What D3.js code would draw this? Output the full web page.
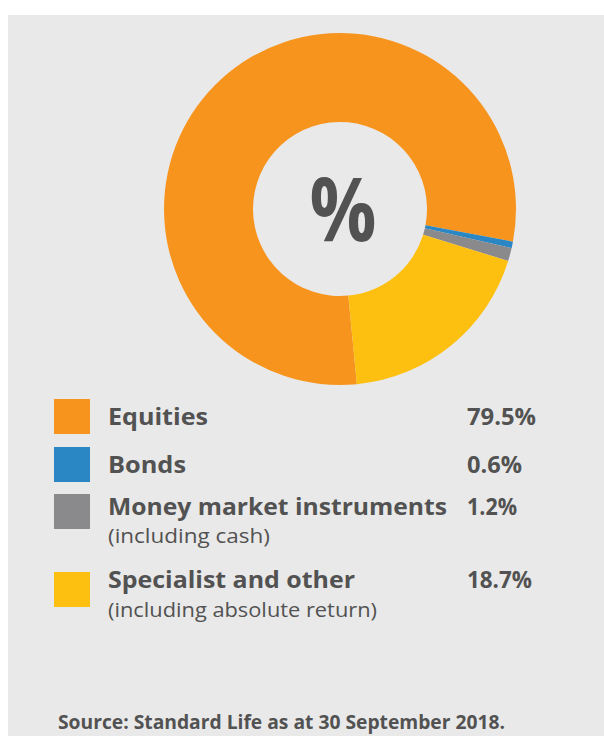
<!DOCTYPE html>
<html>
<head>
<meta charset="utf-8">
<script src="https://cdn.jsdelivr.net/npm/d3@7"></script>
<style>
  body { margin: 0; background: #fff; }
  svg { display: block; }
  text { font-family: "Open Sans", "DejaVu Sans", sans-serif; fill: #525252; }
</style>
</head>
<body>
<svg id="chart" width="604" height="736"></svg>
<script>
// asset allocation
const categories = ['Equities', 'Bonds', 'Money market instruments', 'Specialist and other']
const subLabels = ['', '', '(including cash)', '(including absolute return)']
const values = [79.5, 0.6, 1.2, 18.7]
const valueLabels = ['79.5%', '0.6%', '1.2%', '18.7%']
const colors = ['#f7941e', '#2b87c4', '#8a8a8c', '#fdc010']
const source = 'Source: Standard Life as at 30 September 2018.'

const width = 604
const height = 736
const cx = 340, cy = 209
const outerR = 176, innerR = 87

const svg = d3.select('#chart')

svg.append('rect')
  .attr('x', 8).attr('y', 15)
  .attr('width', width - 8).attr('height', height - 15)
  .attr('fill', '#e9e9e9')

const data = categories.map((c, i) => ({name: c, sub: subLabels[i], value: values[i], label: valueLabels[i], color: colors[i]}))

// start angle picked so equities begin near the bottom
const startA = 174.5 * Math.PI / 180
const pie = d3.pie()
  .value(d => d.value)
  .sort(null)
  .startAngle(startA)
  .endAngle(startA + 2 * Math.PI)

const arc = d3.arc().innerRadius(innerR).outerRadius(outerR)

const g = svg.append('g').attr('transform', `translate(${cx},${cy})`)
g.selectAll('path')
  .data(pie(data))
  .join('path')
  .attr('d', arc)
  .attr('fill', d => d.data.color)

g.append('text')
  .attr('x', 3).attr('y', 32)
  .attr('text-anchor', 'middle')
  .attr('font-size', 88)
  .attr('font-weight', 700)
  .attr('fill', '#555')
  .attr('textLength', 67)
  .attr('lengthAdjust', 'spacingAndGlyphs')
  .text('%')

// legend
const rowTop = [399, 447, 494, 572]
const labelY = [26, 26, 21, 16]
const subY = [0, 0, 49, 45]
const labelW = [100, 78, 339, 247]
const subW = [0, 0, 162, 269]
const valW = [69, 55, 50, 65]

const rows = svg.selectAll('g.row')
  .data(data)
  .join('g')
  .attr('class', 'row')
  .attr('transform', (d, i) => `translate(0,${rowTop[i]})`)

rows.append('rect')
  .attr('x', 54).attr('y', 0)
  .attr('width', 36).attr('height', 35)
  .attr('fill', d => d.color)

rows.append('text')
  .attr('x', 108)
  .attr('y', (d, i) => labelY[i])
  .attr('font-size', 24)
  .attr('font-weight', 700)
  .attr('textLength', (d, i) => labelW[i])
  .attr('lengthAdjust', 'spacingAndGlyphs')
  .text(d => d.name)

rows.append('text')
  .attr('x', 467)
  .attr('y', (d, i) => labelY[i])
  .attr('font-size', 24)
  .attr('font-weight', 700)
  .attr('textLength', (d, i) => valW[i])
  .attr('lengthAdjust', 'spacingAndGlyphs')
  .text(d => d.label)

rows.each(function(d, i) {
  if (!d.sub) return
  d3.select(this).append('text')
    .attr('x', 108)
    .attr('y', subY[i])
    .attr('font-size', 20)
    .attr('textLength', subW[i])
    .attr('lengthAdjust', 'spacingAndGlyphs')
    .text(d.sub)
})

svg.append('text')
  .attr('x', 58).attr('y', 729)
  .attr('font-size', 20)
  .attr('font-weight', 700)
  .attr('textLength', 447)
  .attr('lengthAdjust', 'spacingAndGlyphs')
  .text(source)
</script>
</body>
</html>
